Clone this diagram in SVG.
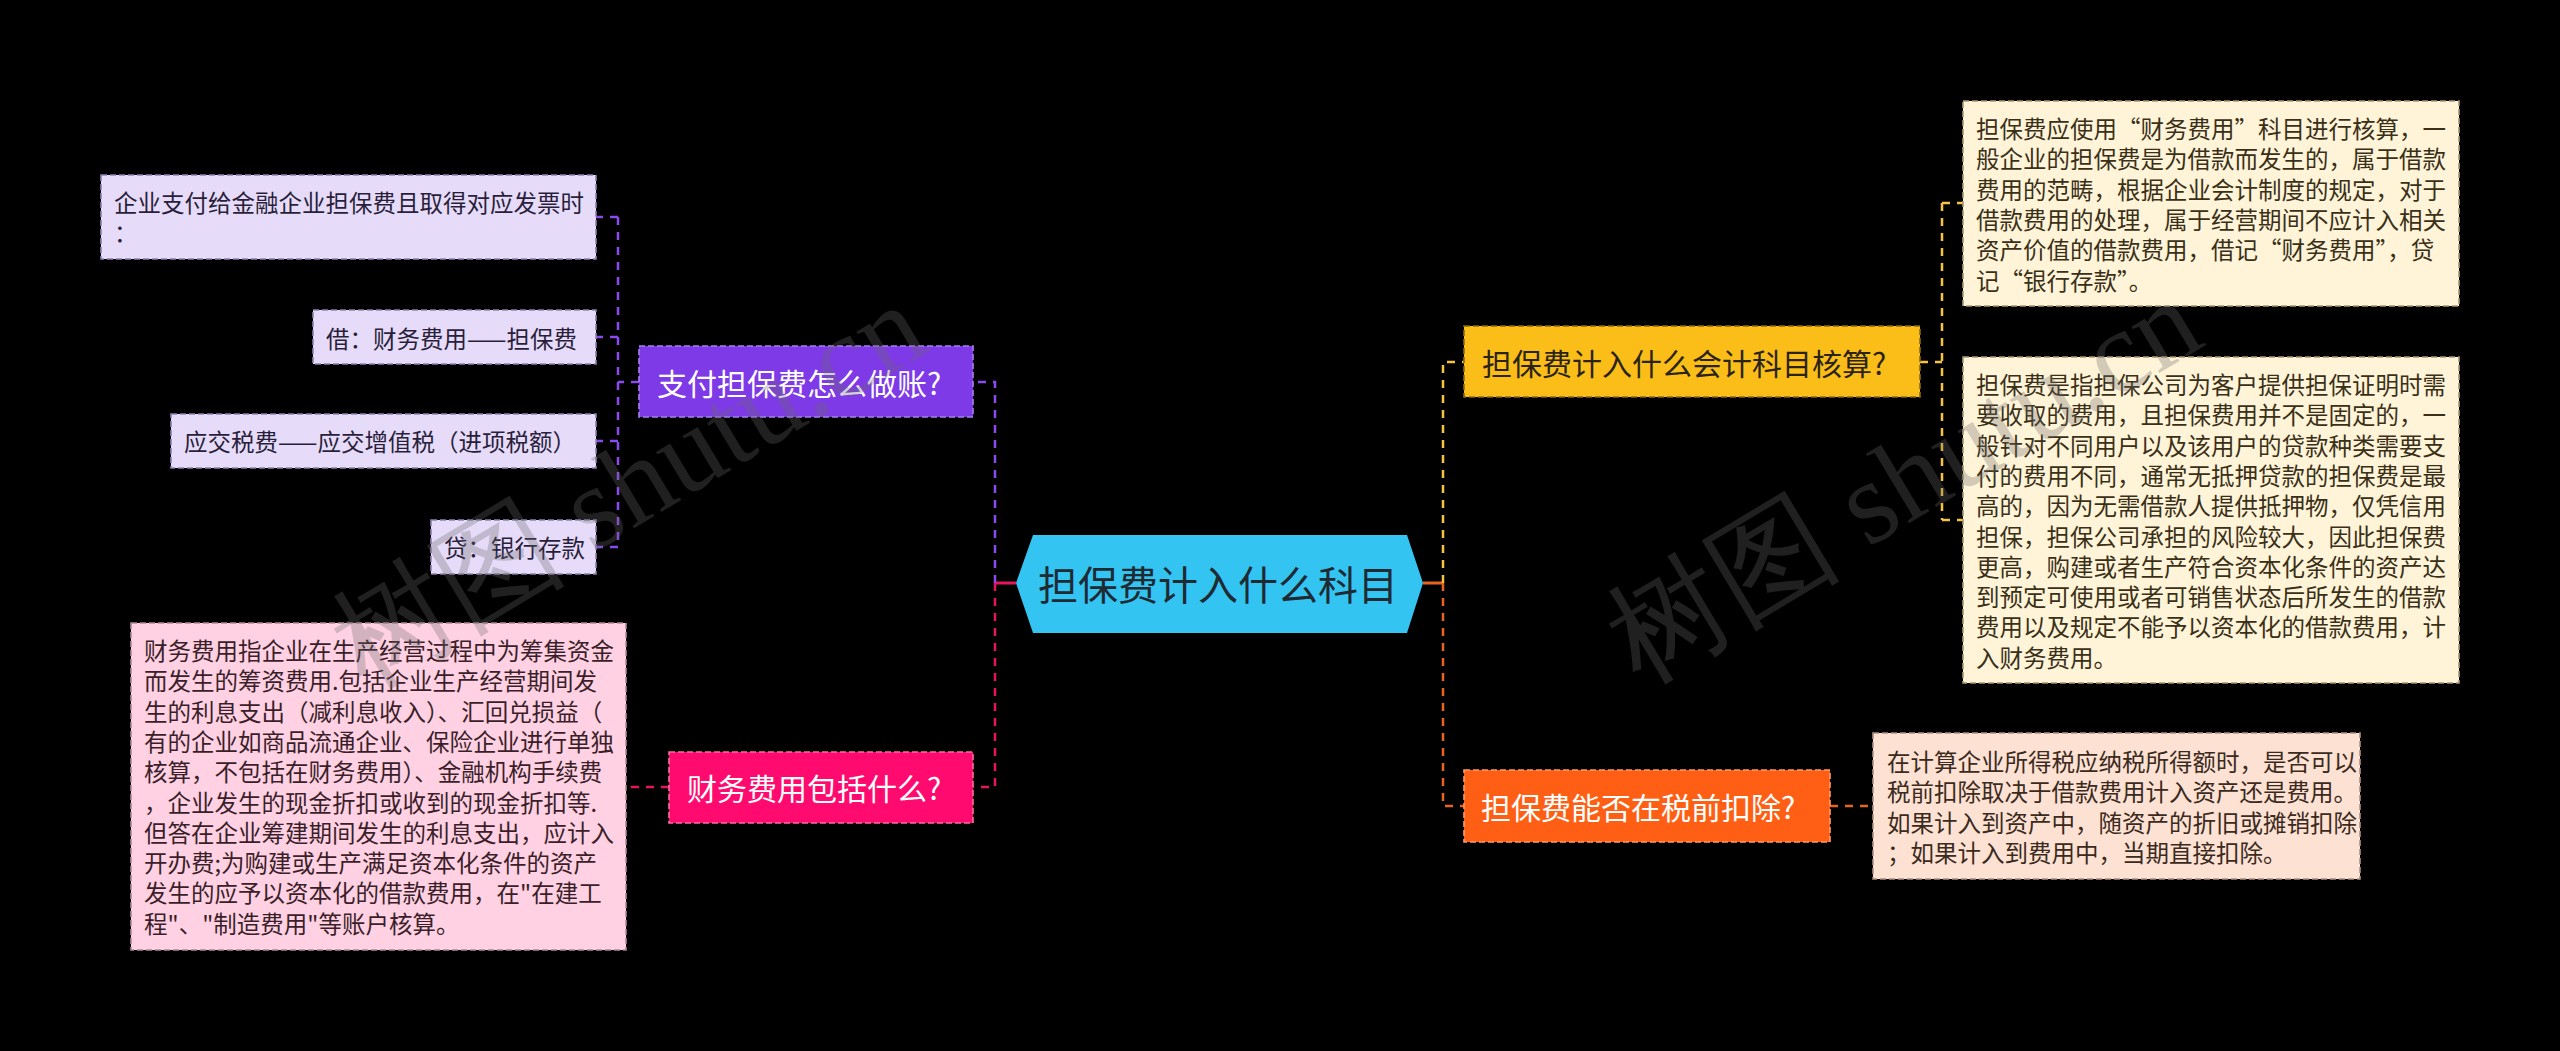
<svg xmlns="http://www.w3.org/2000/svg" width="2560" height="1051" viewBox="0 0 2560 1051">
<style>
text{font-family:"Noto Sans CJK SC","Noto Sans",sans-serif;dominant-baseline:central}
.leaf{font-size:23.5px}
.node{font-size:30px}
.c{fill:none;stroke-width:2.5;stroke-dasharray:8 7}
.bd{stroke-width:1.6;stroke-dasharray:6 3}
.wm{font-family:"Liberation Serif","DejaVu Serif",serif;font-size:118px;fill:#6a6a6a;fill-opacity:0.3;dominant-baseline:auto}
</style>
<rect x="0" y="0" width="2560" height="1051" fill="#000"/>

<g id="connectors">
  <path d="M1016 583H995" stroke="#e6145f" stroke-width="3" fill="none"/>
  <path class="c" stroke="#8a4af0" d="M995 583V382H973"/>
  <path class="c" stroke="#e6145f" d="M995 583V787H973"/>
  <path class="c" stroke="#8a4af0" d="M639 382H618M618 217V547M618 217H596M618 337H596M618 441H596M618 547H596"/>
  <path class="c" stroke="#e6145f" d="M669 787H626"/>
  <path d="M1423 583H1443" stroke="#e8641e" stroke-width="3" fill="none"/>
  <path class="c" stroke="#f5c343" d="M1443 583V362H1464"/>
  <path class="c" stroke="#e8641e" d="M1443 583V806H1464"/>
  <path class="c" stroke="#f5c343" d="M1920 362H1942M1942 203V520M1942 203H1963M1942 520H1963"/>
  <path class="c" stroke="#e8641e" d="M1830 806H1873"/>
</g>

<g id="root">
  <polygon points="1016,583 1033,535 1407,535 1423,583 1407,633 1033,633" fill="#33c4f2"/>
  <text x="1218" y="583" font-size="40" fill="#1f2a33" text-anchor="middle">担保费计入什么科目</text>
</g>

<g id="n-pay">
  <rect class="bd" x="639" y="346" width="334" height="71" fill="#7e3ae6" stroke="#a77df2"/>
  <text class="node" x="657" y="382" fill="#fff">支付担保费怎么做账?</text>
</g>
<g id="n-pay-1">
  <rect class="bd" x="101" y="175" width="495" height="84" fill="#e6dcfa" stroke="#8e80b0"/>
  <text class="leaf" fill="#2a1f3a"><tspan x="114" y="202">企业支付给金融企业担保费且取得对应发票时</tspan><tspan x="114" y="232">：</tspan></text>
</g>
<g id="n-pay-2">
  <rect class="bd" x="313" y="310" width="283" height="54" fill="#e6dcfa" stroke="#8e80b0"/>
  <text class="leaf" x="326" y="338" fill="#2a1f3a">借：财务费用——担保费</text>
</g>
<g id="n-pay-3">
  <rect class="bd" x="171" y="414" width="425" height="54" fill="#e6dcfa" stroke="#8e80b0"/>
  <text class="leaf" x="184" y="441" fill="#2a1f3a">应交税费——应交增值税（进项税额）</text>
</g>
<g id="n-pay-4">
  <rect class="bd" x="431" y="520" width="165" height="54" fill="#e6dcfa" stroke="#8e80b0"/>
  <text class="leaf" x="444" y="547" fill="#2a1f3a">贷：银行存款</text>
</g>

<g id="n-fee">
  <rect class="bd" x="669" y="752" width="304" height="71" fill="#ff0a6e" stroke="#ff6aa5"/>
  <text class="node" x="687" y="787" fill="#fff">财务费用包括什么?</text>
</g>
<g id="n-fee-1">
  <rect class="bd" x="131" y="623" width="495" height="327" fill="#ffd1e3" stroke="#b08898"/>
  <text class="leaf" fill="#3a1f2a">
    <tspan x="144" y="650">财务费用指企业在生产经营过程中为筹集资金</tspan>
    <tspan x="144" y="680.3">而发生的筹资费用.包括企业生产经营期间发</tspan>
    <tspan x="144" y="710.6">生的利息支出（减利息收入）、汇回兑损益（</tspan>
    <tspan x="144" y="740.9">有的企业如商品流通企业、保险企业进行单独</tspan>
    <tspan x="144" y="771.2">核算，不包括在财务费用）、金融机构手续费</tspan>
    <tspan x="144" y="801.5">，企业发生的现金折扣或收到的现金折扣等.</tspan>
    <tspan x="144" y="831.8">但答在企业筹建期间发生的利息支出，应计入</tspan>
    <tspan x="144" y="862.1">开办费;为购建或生产满足资本化条件的资产</tspan>
    <tspan x="144" y="892.4">发生的应予以资本化的借款费用，在"在建工</tspan>
    <tspan x="144" y="922.7">程"、"制造费用"等账户核算。</tspan>
  </text>
</g>

<g id="n-subject">
  <rect class="bd" x="1464" y="326" width="456" height="71" fill="#fbbd17" stroke="#8a6a10"/>
  <text class="node" x="1482" y="362" fill="#2a2418">担保费计入什么会计科目核算?</text>
</g>
<g id="n-subject-1">
  <rect class="bd" x="1963" y="101" width="496" height="205" fill="#fff4d8" stroke="#a89870"/>
  <text class="leaf" fill="#3a3018">
    <tspan x="1976" y="128">担保费应使用“财务费用”科目进行核算，一</tspan>
    <tspan x="1976" y="158.3">般企业的担保费是为借款而发生的，属于借款</tspan>
    <tspan x="1976" y="188.6">费用的范畴，根据企业会计制度的规定，对于</tspan>
    <tspan x="1976" y="218.9">借款费用的处理，属于经营期间不应计入相关</tspan>
    <tspan x="1976" y="249.2">资产价值的借款费用，借记“财务费用”，贷</tspan>
    <tspan x="1976" y="279.5">记“银行存款”。</tspan>
  </text>
</g>
<g id="n-subject-2">
  <rect class="bd" x="1963" y="357" width="496" height="326" fill="#fff4d8" stroke="#a89870"/>
  <text class="leaf" fill="#3a3018">
    <tspan x="1976" y="384">担保费是指担保公司为客户提供担保证明时需</tspan>
    <tspan x="1976" y="414.3">要收取的费用，且担保费用并不是固定的，一</tspan>
    <tspan x="1976" y="444.6">般针对不同用户以及该用户的贷款种类需要支</tspan>
    <tspan x="1976" y="474.9">付的费用不同，通常无抵押贷款的担保费是最</tspan>
    <tspan x="1976" y="505.2">高的，因为无需借款人提供抵押物，仅凭信用</tspan>
    <tspan x="1976" y="535.5">担保，担保公司承担的风险较大，因此担保费</tspan>
    <tspan x="1976" y="565.8">更高，购建或者生产符合资本化条件的资产达</tspan>
    <tspan x="1976" y="596.1">到预定可使用或者可销售状态后所发生的借款</tspan>
    <tspan x="1976" y="626.4">费用以及规定不能予以资本化的借款费用，计</tspan>
    <tspan x="1976" y="656.7">入财务费用。</tspan>
  </text>
</g>

<g id="n-tax">
  <rect class="bd" x="1464" y="770" width="366" height="72" fill="#ff5f14" stroke="#ff9a66"/>
  <text class="node" x="1481" y="806" fill="#fff">担保费能否在税前扣除?</text>
</g>
<g id="n-tax-1">
  <rect class="bd" x="1873" y="733" width="487" height="146" fill="#fde1d3" stroke="#b09080"/>
  <text class="leaf" fill="#3a2a20">
    <tspan x="1887" y="761">在计算企业所得税应纳税所得额时，是否可以</tspan>
    <tspan x="1887" y="791.3">税前扣除取决于借款费用计入资产还是费用。</tspan>
    <tspan x="1887" y="821.6">如果计入到资产中，随资产的折旧或摊销扣除</tspan>
    <tspan x="1887" y="851.9">；如果计入到费用中，当期直接扣除。</tspan>
  </text>
</g>

<g id="watermarks">
  <text class="wm" x="0" y="0" transform="translate(365 690) rotate(-31)">树图 shutu.cn</text>
  <text class="wm" x="0" y="0" transform="translate(1640 685) rotate(-31)">树图 shutu.cn</text>
</g>
</svg>
